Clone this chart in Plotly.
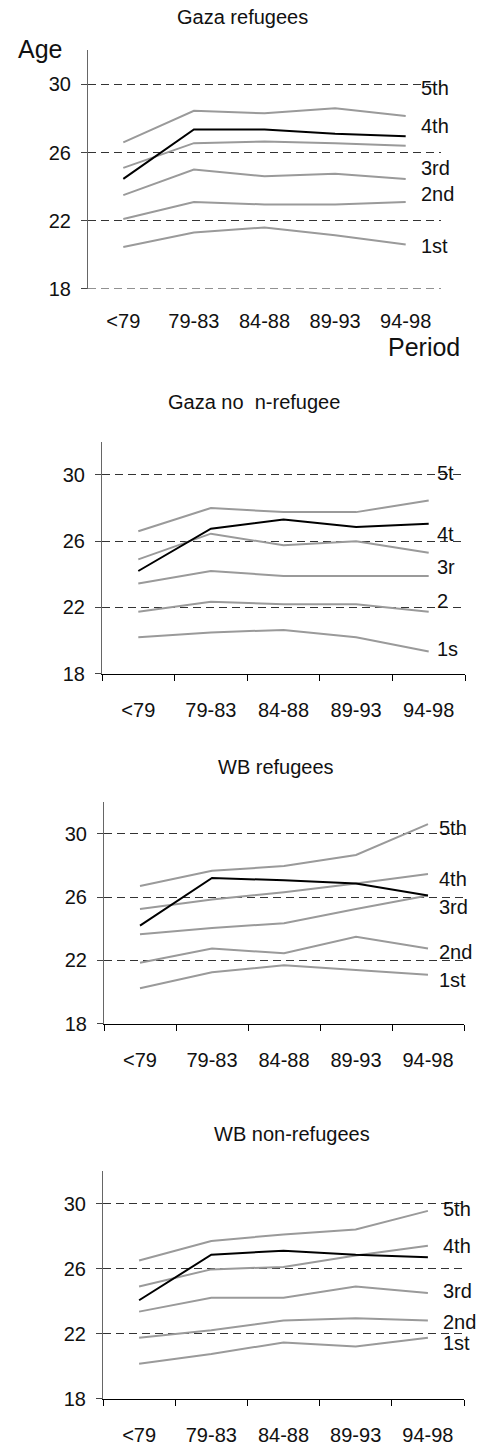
import plotly.graph_objects as go

periods = ["<79", "79-83", "84-88", "89-93", "94-98"]
quintile_labels = ["5th", "4th", "3rd", "2nd", "1st"]

# Gaza refugees (gray lines from top to bottom, black line = median)
gaza_ref_top = [26.6, 28.45, 28.3, 28.6, 28.15]
gaza_ref_g2 = [25.1, 26.55, 26.65, 26.55, 26.4]
gaza_ref_g3 = [23.5, 25.0, 24.6, 24.75, 24.45]
gaza_ref_g4 = [22.1, 23.1, 22.95, 22.95, 23.1]
gaza_ref_low = [20.45, 21.3, 21.6, 21.15, 20.6]
gaza_ref_black = [24.45, 27.35, 27.35, 27.1, 26.95]

# Gaza non-refugee
gaza_non_top = [26.6, 28.0, 27.75, 27.75, 28.45]
gaza_non_g2 = [24.9, 26.45, 25.75, 26.0, 25.3]
gaza_non_g3 = [23.45, 24.2, 23.9, 23.9, 23.9]
gaza_non_g4 = [21.75, 22.35, 22.2, 22.2, 21.75]
gaza_non_low = [20.2, 20.5, 20.65, 20.2, 19.35]
gaza_non_black = [24.2, 26.75, 27.3, 26.85, 27.05]

# WB refugees
wb_ref_top = [26.7, 27.65, 27.95, 28.65, 30.6]
wb_ref_g2 = [25.25, 25.85, 26.3, 26.85, 27.45]
wb_ref_g3 = [23.65, 24.05, 24.35, 25.25, 26.1]
wb_ref_g4 = [21.85, 22.75, 22.45, 23.5, 22.75]
wb_ref_low = [20.25, 21.25, 21.7, 21.4, 21.1]
wb_ref_black = [24.2, 27.2, 27.05, 26.85, 26.1]

# WB non-refugees
wb_non_top = [26.5, 27.7, 28.1, 28.4, 29.55]
wb_non_g2 = [24.9, 25.95, 26.1, 26.8, 27.4]
wb_non_g3 = [23.35, 24.2, 24.2, 24.9, 24.5]
wb_non_g4 = [21.75, 22.2, 22.8, 22.95, 22.8]
wb_non_low = [20.15, 20.75, 21.45, 21.2, 21.75]
wb_non_black = [24.05, 26.85, 27.1, 26.85, 26.7]

titles = ["Gaza refugees", "Gaza no\u00a0\u00a0n-refugee", "WB refugees", "WB non-refugees"]
panel_labels = [
    ["5th", "4th", "3rd", "2nd", "1st"],
    ["5t", "4t", "3r", "2", "1s"],
    ["5th", "4th", "3rd", "2nd", "1st"],
    ["5th", "4th", "3rd", "2nd", "1st"],
]
y_ticks = [18, 22, 26, 30]

panels = [
    [gaza_ref_top, gaza_ref_g2, gaza_ref_g3, gaza_ref_g4, gaza_ref_low, gaza_ref_black],
    [gaza_non_top, gaza_non_g2, gaza_non_g3, gaza_non_g4, gaza_non_low, gaza_non_black],
    [wb_ref_top, wb_ref_g2, wb_ref_g3, wb_ref_g4, wb_ref_low, wb_ref_black],
    [wb_non_top, wb_non_g2, wb_non_g3, wb_non_g4, wb_non_low, wb_non_black],
]

# layout geometry (pixels)
W, H = 483, 1449
geo = [
    dict(x0=88, x1=441, ytop=50.7, ybot=291, title_x=242, title_y=17, lab_x=419,
         lab_y=[29.8, 27.57, 25.09, 23.59, 20.49], xline=False),
    dict(x0=102, x1=465, ytop=445, ybot=679, title_x=254, title_y=405, lab_x=435,
         lab_y=[30.08, 26.42, 24.42, 22.38, 19.48], xline=True),
    dict(x0=104, x1=464, ytop=808, ybot=1031.7, title_x=276, title_y=773, lab_x=437,
         lab_y=[30.38, 27.16, 25.37, 22.53, 20.77], xline=True),
    dict(x0=103, x1=464, ytop=1180, ybot=1409.3, title_x=292, title_y=1143, lab_x=441,
         lab_y=[29.65, 27.36, 24.63, 22.74, 21.42], xline=True),
]

FONT = "Liberation Sans, Arial, sans-serif"
GRAY = "#9a9a9a"
DASH = "8px,5px"

fig = go.Figure()
annotations = []
shapes = []
layout_axes = {}

for i, (series, g) in enumerate(zip(panels, geo)):
    n = "" if i == 0 else str(i + 1)
    xa, ya = "x" + n, "y" + n
    for j, s in enumerate(series):
        black = j == len(series) - 1
        fig.add_trace(go.Scatter(
            x=periods, y=s, mode="lines", xaxis=xa, yaxis=ya,
            line=dict(color="#000000" if black else GRAY, width=2),
            showlegend=False, hoverinfo="skip"))
    layout_axes["xaxis" + n] = dict(
        domain=[g["x0"] / W, g["x1"] / W], anchor=ya,
        type="category", range=[-0.5, 4.5],
        showgrid=False, zeroline=False,
        showline=g["xline"], linecolor="#000000", linewidth=1,
        ticks="outside" if g["xline"] else "", tickson="boundaries",
        ticklen=6, tickcolor="#000000",
        tickfont=dict(family=FONT, size=20, color="#111111"),
        ticklabelstandoff=18,
    )
    layout_axes["yaxis" + n] = dict(
        domain=[1 - g["ybot"] / H, 1 - g["ytop"] / H], anchor=xa,
        range=[18, 32], tickvals=y_ticks,
        showgrid=True, gridcolor="#333333", griddash=DASH, gridwidth=1,
        zeroline=False, showline=True, linecolor="#666666", linewidth=1,
        ticks="outside", ticklen=6, tickcolor="#444444",
        tickfont=dict(family=FONT, size=20, color="#111111"),
        ticklabelstandoff=6,
    )
    if not g["xline"]:
        shapes.append(dict(type="line", xref=xa + " domain", yref=ya,
                           x0=0, x1=1, y0=18, y1=18,
                           line=dict(color="#333333", width=1, dash=DASH)))
    annotations.append(dict(
        text=titles[i], xref="paper", yref="paper",
        x=g["title_x"] / W, y=1 - g["title_y"] / H,
        xanchor="center", yanchor="middle", showarrow=False,
        font=dict(family=FONT, size=20, color="#111111")))
    for lab, ly in zip(panel_labels[i], g["lab_y"]):
        annotations.append(dict(
            text=lab, xref="paper", yref=ya, x=g["lab_x"] / W, y=ly,
            xanchor="left", yanchor="middle", showarrow=False,
            font=dict(family=FONT, size=20, color="#111111")))

annotations.append(dict(text="Age", xref="paper", yref="paper", x=16 / W, y=1 - 49 / H,
                        xanchor="left", yanchor="middle", showarrow=False,
                        font=dict(family=FONT, size=25, color="#111111")))
annotations.append(dict(text="Period", xref="paper", yref="paper", x=462 / W, y=1 - 350 / H,
                        xanchor="right", yanchor="middle", showarrow=False,
                        font=dict(family=FONT, size=25, color="#111111")))

fig.update_layout(
    width=W, height=H,
    margin=dict(l=0, r=0, t=0, b=0),
    paper_bgcolor="white", plot_bgcolor="white",
    annotations=annotations,
    shapes=shapes,
    **layout_axes,
)

fig.write_html("out.html", config={"displayModeBar": False},
               post_script="document.body.style.margin='0';document.body.style.overflow='hidden';")
